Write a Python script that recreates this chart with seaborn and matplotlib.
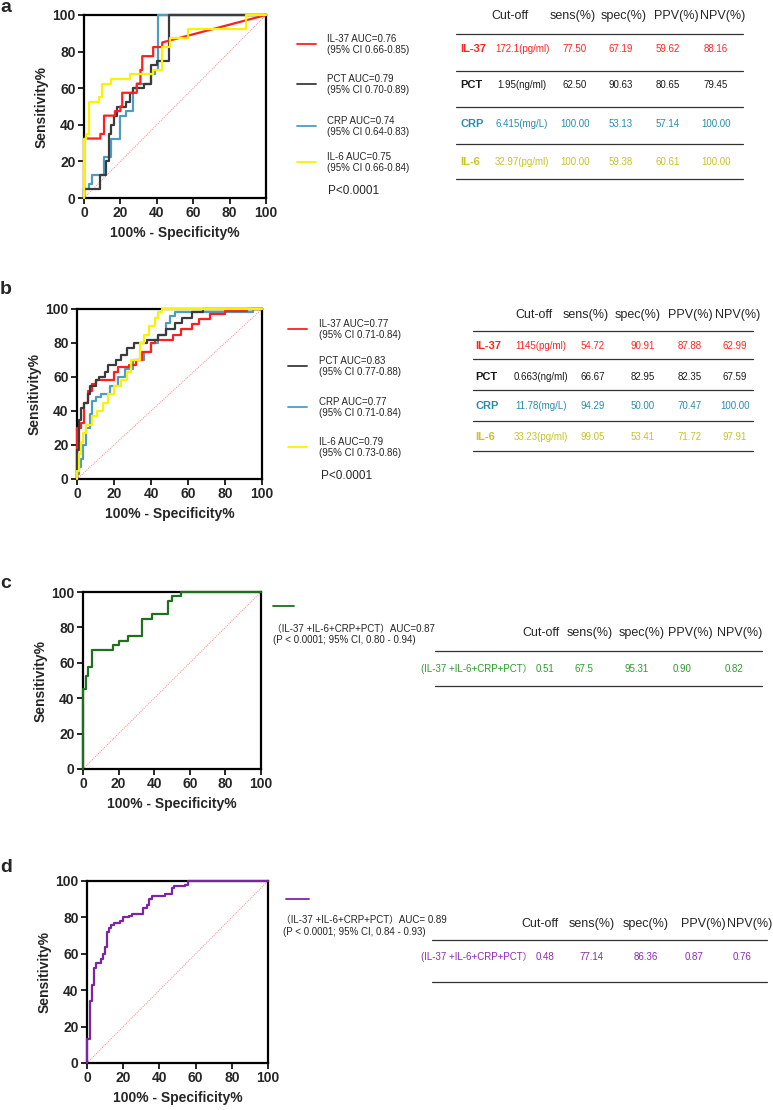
import matplotlib
matplotlib.use('Agg')
import matplotlib.pyplot as plt
import seaborn as sns
from matplotlib.lines import Line2D

W, H = 773, 1110

RED = '#ff1f1f'
DARK = '#3b3b3b'
BLUE = '#4d9dc0'
YELLOW = '#fbf200'
GREEN = '#1e6f1e'
PURPLE = '#7d24a6'

# ROC step curves (x = 100% - specificity, y = sensitivity)
a_il37_x = [0, 0, 9, 9, 11, 11, 17, 17, 20, 20, 21, 21, 29, 29, 31, 31, 32, 32, 38, 38, 43, 43, 100]
a_il37_y = [0, 32.5, 32.5, 35, 35, 45, 45, 47.5, 47.5, 50, 50, 57.5, 57.5, 62.5, 62.5, 70, 70, 77.5, 77.5, 82.5, 82.5, 85, 100]
a_pct_x = [0, 0, 9, 9, 12, 12, 13.5, 13.5, 15, 15, 16.5, 16.5, 18, 18, 23, 23, 25, 25, 27, 27, 33, 33, 37, 37, 40, 40, 46.5, 46.5, 100]
a_pct_y = [0, 5, 5, 12.5, 12.5, 20, 20, 35, 35, 40, 40, 45, 45, 50, 50, 52.5, 52.5, 57.5, 57.5, 60, 60, 62.5, 62.5, 72.5, 72.5, 75, 75, 100, 100]
a_crp_x = [0, 0, 3, 3, 4.5, 4.5, 11, 11, 15, 15, 20, 20, 23, 23, 27, 27, 29, 29, 37, 37, 39, 39, 40.5, 40.5, 100]
a_crp_y = [0, 5, 5, 7.5, 7.5, 12.5, 12.5, 22.5, 22.5, 32.5, 32.5, 45, 45, 47.5, 47.5, 60, 60, 62.5, 62.5, 67.5, 67.5, 70, 70, 100, 100]
a_il6_x = [0, 0, 1, 1, 3, 3, 8, 8, 10, 10, 15, 15, 25, 25, 38, 38, 43, 43, 47, 47, 57, 57, 89, 89, 100]
a_il6_y = [0, 32.5, 32.5, 35, 35, 52.5, 52.5, 55, 55, 62.5, 62.5, 65, 65, 67.5, 67.5, 70, 70, 82.5, 82.5, 87.5, 87.5, 92.5, 92.5, 100, 100]

b_il37_x = [0, 0, 2, 2, 4, 4, 6, 6, 8, 8, 10, 10, 20, 20, 22, 22, 28, 28, 32, 32, 35, 35, 40, 40, 42, 42, 52, 52, 56, 56, 62, 62, 66, 66, 72, 72, 80, 80, 92, 92, 100]
b_il37_y = [0, 30, 30, 33, 33, 45, 45, 52, 52, 56, 56, 58, 58, 63, 63, 66, 66, 67, 67, 70, 70, 75, 75, 80, 80, 82, 82, 85, 85, 88, 88, 91, 91, 94, 94, 97, 97, 99, 99, 100, 100]
b_pct_x = [0, 0, 1, 1, 2, 2, 4, 4, 6, 6, 7, 7, 10, 10, 12, 12, 15, 15, 17, 17, 21, 21, 24, 24, 27, 27, 31, 31, 38, 38, 44, 44, 48, 48, 53, 53, 57, 57, 62, 62, 68, 68, 100]
b_pct_y = [0, 17, 17, 35, 35, 42, 42, 45, 45, 50, 50, 55, 55, 58, 58, 60, 60, 63, 63, 67, 67, 70, 70, 73, 73, 77, 77, 80, 80, 82, 82, 85, 85, 88, 88, 92, 92, 95, 95, 98, 98, 100, 100]
b_crp_x = [0, 0, 1, 1, 2, 2, 3, 3, 5, 5, 7, 7, 8, 8, 10, 10, 13, 13, 18, 18, 22, 22, 26, 26, 30, 30, 36, 36, 40, 40, 44, 44, 48, 48, 50, 50, 53, 53, 95, 95, 100]
b_crp_y = [0, 3, 3, 7, 7, 12, 12, 20, 20, 30, 30, 38, 38, 46, 46, 48, 48, 50, 50, 55, 55, 60, 60, 65, 65, 70, 70, 75, 75, 80, 80, 85, 85, 92, 92, 96, 96, 98, 98, 100, 100]
b_il6_x = [0, 0, 1, 1, 2, 2, 3, 3, 5, 5, 8, 8, 11, 11, 14, 14, 17, 17, 20, 20, 24, 24, 27, 27, 29, 29, 34, 34, 36, 36, 39, 39, 42, 42, 44, 44, 46, 46, 100]
b_il6_y = [0, 5, 5, 15, 15, 22, 22, 27, 27, 32, 32, 37, 37, 40, 40, 45, 45, 50, 50, 55, 55, 58, 58, 63, 63, 70, 70, 80, 80, 85, 85, 90, 90, 95, 95, 98, 98, 100, 100]

c_combo_x = [0, 0, 1.5, 1.5, 3, 3, 5, 5, 17, 17, 20, 20, 25, 25, 33, 33, 39, 39, 48, 48, 50, 50, 55, 55, 100]
c_combo_y = [0, 45, 45, 52.5, 52.5, 57.5, 57.5, 67.5, 67.5, 70, 70, 72.5, 72.5, 75, 75, 85, 85, 87.5, 87.5, 95, 95, 97.5, 97.5, 100, 100]

d_combo_x = [0, 0, 1.5, 1.5, 3, 3, 4, 4, 5, 5, 8, 8, 9, 9, 10, 10, 11, 11, 12, 12, 13, 13, 15, 15, 18, 18, 20, 20, 23, 23, 25, 25, 31, 31, 33, 33, 34, 34, 36, 36, 43, 43, 47, 47, 48, 48, 54, 54, 56, 56, 100]
d_combo_y = [0, 13, 13, 34, 34, 43, 43, 52, 52, 55, 55, 57, 57, 60, 60, 64, 64, 72, 72, 74, 74, 76, 76, 77, 77, 78, 78, 80, 80, 81, 81, 82, 82, 85, 85, 87, 87, 90, 90, 92, 92, 93, 93, 96, 96, 97, 97, 98, 98, 100, 100]

# legend texts
a_auc = ['IL-37 AUC=0.76', 'PCT AUC=0.79', 'CRP AUC=0.74', 'IL-6 AUC=0.75']
a_ci = ['(95% CI 0.66-0.85)', '(95% CI 0.70-0.89)', '(95% CI 0.64-0.83)', '(95% CI 0.66-0.84)']
b_auc = ['IL-37 AUC=0.77', 'PCT AUC=0.83', 'CRP AUC=0.77', 'IL-6 AUC=0.79']
b_ci = ['(95% CI 0.71-0.84)', '(95% CI 0.77-0.88)', '(95% CI 0.71-0.84)', '(95% CI 0.73-0.86)']
c_auc = ['（IL-37 +IL-6+CRP+PCT）AUC=0.87', '(P < 0.0001; 95% CI, 0.80 - 0.94)']
d_auc = ['（IL-37 +IL-6+CRP+PCT）AUC= 0.89', '(P < 0.0001; 95% CI, 0.84 - 0.93)']

# tables
tab_header = ['Cut-off', 'sens(%)', 'spec(%)', 'PPV(%)', 'NPV(%)']
markers = ['IL-37', 'PCT', 'CRP', 'IL-6']
a_cutoff = ['172.1(pg/ml)', '1.95(ng/ml)', '6.415(mg/L)', '32.97(pg/ml)']
a_sens = ['77.50', '62.50', '100.00', '100.00']
a_spec = ['67.19', '90.63', '53.13', '59.38']
a_ppv = ['59.62', '80.65', '57.14', '60.61']
a_npv = ['88.16', '79.45', '100.00', '100.00']
b_cutoff = ['1145(pg/ml)', '0.663(ng/ml)', '11.78(mg/L)', '33.23(pg/ml)']
b_sens = ['54.72', '66.67', '94.29', '99.05']
b_spec = ['90.91', '82.95', '50.00', '53.41']
b_ppv = ['87.88', '82.35', '70.47', '71.72']
b_npv = ['62.99', '67.59', '100.00', '97.91']
combo_label = '(IL-37 +IL-6+CRP+PCT）'
c_row = ['0.51', '67.5', '95.31', '0.90', '0.82']
d_row = ['0.48', '77.14', '86.36', '0.87', '0.76']

row_colors = ['#ff2424', '#1a1a1a', '#2a8cad', '#c9c22a']

sns.set_style('ticks')
plt.rcParams['font.family'] = ['Liberation Sans', 'Noto Sans CJK SC']

fig = plt.figure(figsize=(W / 100, H / 100), dpi=100)


def px_axes(x0, y0, x1, y1):
    return fig.add_axes([x0 / W, 1 - y1 / H, (x1 - x0) / W, (y1 - y0) / H])


def ftext(x, y, s, **kw):
    kw.setdefault('va', 'center')
    fig.text(x / W, 1 - y / H, s, **kw)


def hline(y, x0, x1, color='#333333', lw=0.9):
    fig.add_artist(Line2D([x0 / W, x1 / W], [1 - y / H, 1 - y / H], color=color, lw=lw))


def draw_roc(ax, curves):
    ax.axline((0, 0), slope=1, ls=(0, (1, 1.2)), color='#ff8080', lw=0.7)
    for xs, ys, c in curves:
        # GraphPad draws the curves over the frame, so they stay visible on the spines
        sns.lineplot(x=xs, y=ys, sort=False, estimator=None, color=c, lw=1.6, ax=ax,
                     legend=False, clip_on=False, zorder=3)
    ax.set_xlim(0, 100)
    ax.set_ylim(0, 100)
    ax.set_xticks(range(0, 101, 20))
    ax.set_yticks(range(0, 101, 20))
    for s in ax.spines.values():
        s.set_linewidth(1.6)
        s.set_color('black')
    ax.tick_params(direction='out', length=4, width=1.4, labelsize=10, pad=2)
    for lbl in ax.get_xticklabels() + ax.get_yticklabels():
        lbl.set_fontweight('bold')
    ax.set_xlabel('100% - Specificity%', fontsize=10, fontweight='bold', labelpad=4)
    ax.set_ylabel('Sensitivity%', fontsize=10, fontweight='bold', labelpad=3)


def draw_legend(x_line, x_text, ys, colors, auc, ci, p_xy):
    for y, c, t1, t2 in zip(ys, colors, auc, ci):
        fig.add_artist(Line2D([x_line[0] / W, x_line[1] / W], [1 - y / H, 1 - y / H], color=c, lw=1.3))
        ftext(x_text, y - 5, t1, fontsize=7)
        ftext(x_text, y + 6, t2, fontsize=7)
    ftext(p_xy[0], p_xy[1], 'P<0.0001', fontsize=8.5)


def draw_table(head_y, head_x, row_ys, lab_x, val_x, lines_y, lx, cols):
    for hx, h in zip(head_x, tab_header):
        ftext(hx, head_y, h, fontsize=9, ha='center')
    for y in lines_y:
        hline(y, lx[0], lx[1])
    for i, y in enumerate(row_ys):
        c = row_colors[i]
        ftext(lab_x, y, markers[i], fontsize=8, fontweight='bold', color=c)
        for vx, col in zip(val_x, cols):
            ftext(vx, y, col[i], fontsize=7, ha='center', color=c)


# panel a
ax = px_axes(84, 15, 266, 198)
draw_roc(ax, [(a_crp_x, a_crp_y, BLUE), (a_pct_x, a_pct_y, DARK),
              (a_il37_x, a_il37_y, RED), (a_il6_x, a_il6_y, YELLOW)])
ftext(0, 7, 'a', fontsize=14, fontweight='bold')
draw_legend((297, 316), 327, [44, 84, 126, 162], [RED, DARK, BLUE, YELLOW], a_auc, a_ci, (328, 191))
draw_table(16, [510, 573, 624, 676, 723], [49, 85, 124, 162], 460, [522, 575, 621, 668, 716],
           [34, 71, 107, 144, 179], (456, 743), [a_cutoff, a_sens, a_spec, a_ppv, a_npv])

# panel b
ax = px_axes(77, 309, 262, 479)
draw_roc(ax, [(b_crp_x, b_crp_y, BLUE), (b_il37_x, b_il37_y, RED),
              (b_pct_x, b_pct_y, DARK), (b_il6_x, b_il6_y, YELLOW)])
ftext(0, 289, 'b', fontsize=14, fontweight='bold')
draw_legend((288, 307), 319, [329, 366, 407, 447], [RED, DARK, BLUE, YELLOW], b_auc, b_ci, (321, 476))
draw_table(315, [534, 586, 638, 690, 738], [346, 377, 406, 437], 475, [541, 593, 643, 690, 735],
           [331, 359, 390, 421, 451], (473, 753), [b_cutoff, b_sens, b_spec, b_ppv, b_npv])

# panel c
ax = px_axes(83, 592, 261, 769)
draw_roc(ax, [(c_combo_x, c_combo_y, GREEN)])
ftext(0, 583, 'c', fontsize=14, fontweight='bold')
fig.add_artist(Line2D([273 / W, 294 / W], [1 - 606 / H] * 2, color=GREEN, lw=1.3))
ftext(272, 629, c_auc[0], fontsize=7)
ftext(273, 640, c_auc[1], fontsize=7)
for hx, h in zip([541, 590, 642, 690, 740], tab_header):
    ftext(hx, 633, h, fontsize=9, ha='center')
hline(651, 435, 762)
hline(686, 435, 762)
ftext(532, 669, combo_label, fontsize=7, ha='right', color='#2e9b2e')
for vx, v in zip([545, 584, 637, 682, 734], c_row):
    ftext(vx, 669, v, fontsize=7, ha='center', color='#2e9b2e')

# panel d
ax = px_axes(87, 881, 268, 1063)
draw_roc(ax, [(d_combo_x, d_combo_y, PURPLE)])
ftext(0, 868, 'd', fontsize=14, fontweight='bold')
fig.add_artist(Line2D([286 / W, 309 / W], [1 - 899 / H] * 2, color=PURPLE, lw=1.3))
ftext(281, 920, d_auc[0], fontsize=7)
ftext(283, 932, d_auc[1], fontsize=7)
for hx, h in zip([540, 592, 646, 703, 750], tab_header):
    ftext(hx, 924, h, fontsize=9, ha='center')
hline(940, 432, 767)
hline(982, 432, 767)
ftext(532, 957, combo_label, fontsize=7, ha='right', color='#8a2bb5')
for vx, v in zip([545, 592, 646, 694, 742], d_row):
    ftext(vx, 957, v, fontsize=7, ha='center', color='#8a2bb5')

fig.savefig('out.png', dpi=100)
